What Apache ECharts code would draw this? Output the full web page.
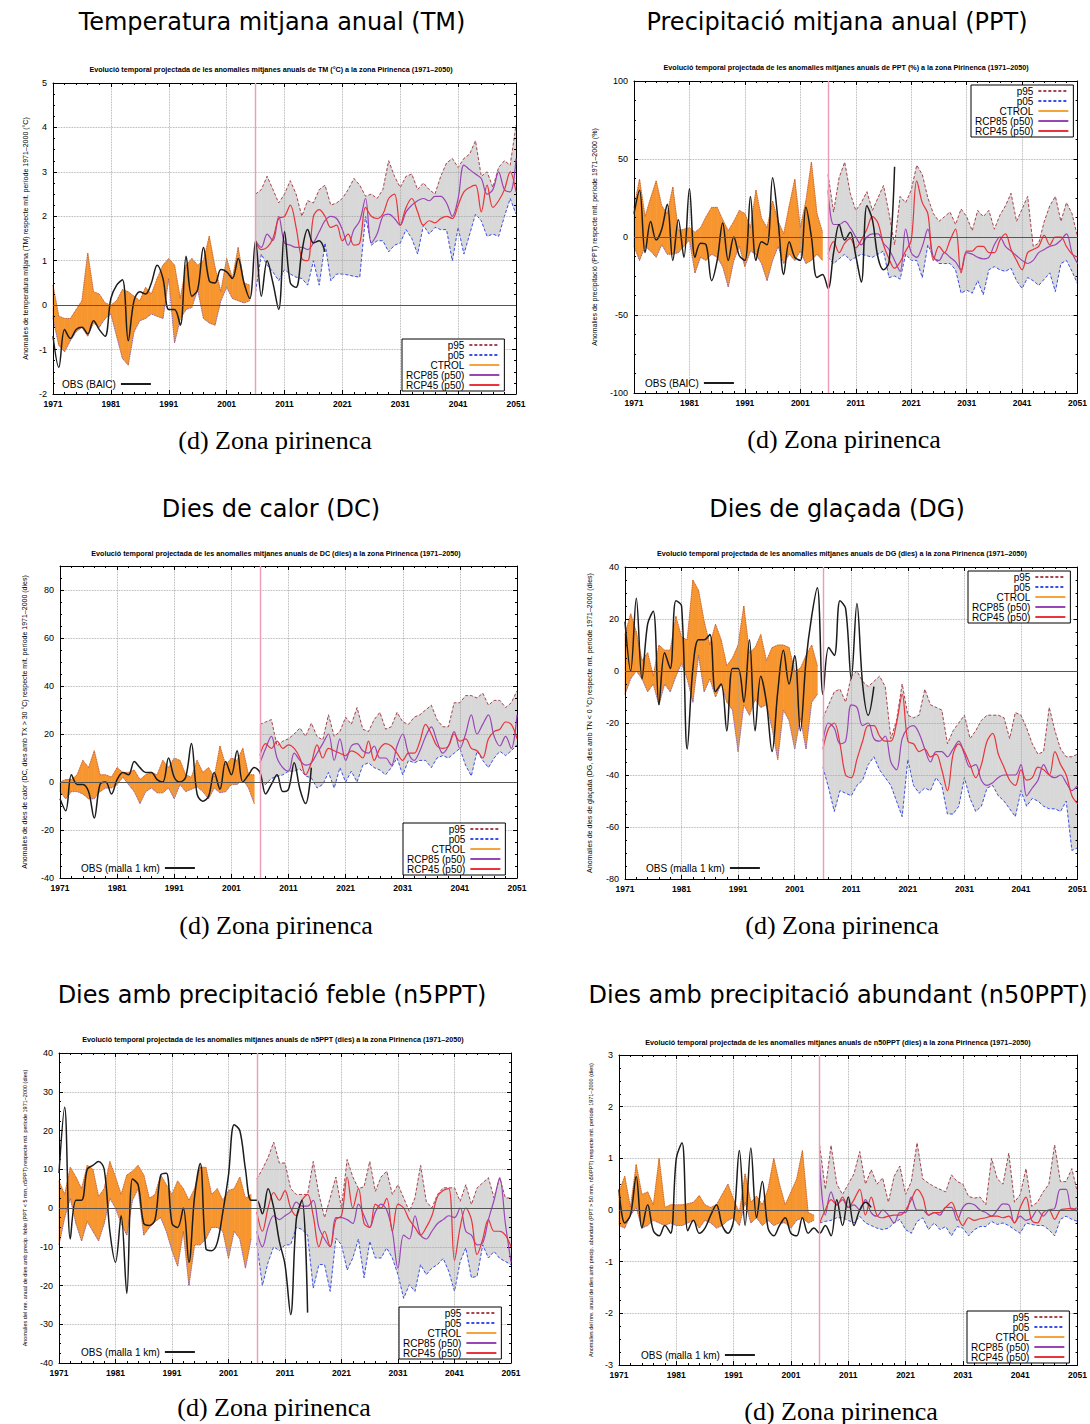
<!DOCTYPE html>
<html>
<head>
<meta charset="utf-8">
<title>Zona pirinenca - anomalies anuals</title>
<script src="https://cdn.jsdelivr.net/npm/echarts@6/dist/echarts.min.js"></script>
<style>
  html, body { margin: 0; padding: 0; background: #fff; }
  #main { width: 1090px; height: 1424px; }
</style>
</head>
<body>
<div id="main"></div>
<script>
var BASE_YEAR = 1971;   // 1r any de la serie
var CTRL_START = 1971;  // CTROL 1971-2005
var FUT_START = 2006;   // escenaris 2006-2051

// ---------- TM (°C) ----------
var tmCtrlP95 = [0.45, -0.25, -0.3, -0.3, -0.1, 0.1, 1.17, 0.3, 0.25, 0.05, 0.0, 0.1, 0.35, 0.3, 0.2, 0.1, 0.4, 0.25, 0.6, 0.9, 1.05, 0.9, 0.15, 0.9, 1.05, 0.9, 1.0, 1.55, 0.85, 0.3, 1.05, 0.6, 1.3, 0.5, 0.45];
var tmCtrlP05 = [-0.3, -0.9, -1.05, -0.8, -0.6, -0.5, -0.7, -0.4, -0.5, -0.3, -0.2, -0.7, -1.2, -1.35, -0.6, -0.35, -0.3, -0.2, -0.25, -0.3, 0.6, -0.85, -0.3, -0.1, -0.05, 0.35, -0.3, -0.4, -0.45, 0.1, 0.4, 0.15, 0.1, 0.05, 0.1];
var tmP95 = [2.5, 2.6, 2.9, 2.6, 2.3, 2.5, 2.8, 2.5, 2.0, 2.35, 2.3, 2.6, 2.7, 2.25, 2.3, 2.4, 2.6, 2.85, 2.7, 2.45, 2.5, 2.4, 2.6, 3.25, 2.9, 2.65, 2.9, 2.95, 2.6, 2.75, 2.6, 2.5, 2.9, 3.2, 3.3, 3.1, 3.3, 3.4, 3.7, 2.9, 3.0, 2.65, 3.1, 3.25, 3.15, 4.05];
var tmP05 = [0.3, 1.15, 0.9, 0.75, 0.55, 0.8, 0.7, 0.63, 0.6, 0.45, 1.0, 0.45, 1.4, 0.55, 0.7, 0.7, 0.68, 0.65, 0.63, 2.0, 1.35, 1.45, 1.45, 1.2, 1.35, 1.4, 1.7, 1.5, 1.15, 1.8, 1.6, 1.75, 1.7, 1.7, 1.0, 1.75, 1.15, 1.6, 2.05, 1.9, 1.55, 1.6, 1.55, 2.0, 2.4, 2.05];
var tmRcp85 = [1.45, 1.3, 1.6, 1.45, 2.0, 1.4, 1.35, 1.3, 1.3, 1.25, 1.4, 1.65, 1.9, 2.0, 1.95, 1.7, 1.35, 1.7, 1.9, 2.4, 1.4, 1.6, 2.0, 2.05, 1.95, 1.8, 2.1, 2.25, 2.35, 2.4, 2.35, 2.45, 2.45, 2.3, 2.0, 2.4, 3.15, 3.05, 2.95, 2.85, 2.5, 2.6, 3.0, 2.6, 2.55, 3.3];
var tmRcp45 = [1.45, 1.25, 1.3, 1.5, 1.95, 2.0, 2.25, 1.75, 1.05, 1.0, 2.0, 2.15, 2.0, 1.75, 1.8, 1.45, 1.6, 1.35, 1.4, 2.2, 2.0, 1.95, 2.05, 2.4, 2.5, 1.8, 2.2, 2.4, 2.1, 1.8, 1.9, 1.85, 1.95, 2.0, 1.95, 2.25, 2.55, 2.65, 2.7, 2.1, 2.7, 2.2, 2.35, 2.6, 3.0, 2.55];
var tmObs = [-0.7, -1.4, -0.55, -0.75, -0.55, -0.5, -0.65, -0.35, -0.55, -0.7, 0.15, 0.45, 0.57, -0.8, 0.1, 0.3, 0.25, 0.5, 0.9, 0.6, -0.1, -0.1, -0.45, 1.1, 0.2, 0.35, 1.3, 0.55, 0.5, 0.8, 0.75, 0.6, 1.05, 0.5, 0.15, 1.45, 0.2, 1.0, 0.5, -0.1, 1.65, 0.5, 0.4, 1.2, 1.7, 1.4, 1.45, 1.2];

// ---------- PPT (%) ----------
var pptCtrlP95 = [19, 37, 13, 25, 36, 20, 15, 32, 4, 5, 6, 3, 6, 13, 19, 19, 11, 4, 10, 17, 15, 6, 30, 12, 6, 23, 10, 2, 20, 37, 6, 23, 48, 15, 3];
var pptCtrlP05 = [-6, -15, -6, -9, -13, -5, -11, -11, -10, -6, -2, -23, -13, -15, -11, -13, -19, -32, -15, -6, -19, -9, -11, -17, -28, -15, -6, -17, -11, -15, -9, -17, -15, -11, -15];
var pptP95 = [40, 16, 38, 48, 28, 17, 22, 29, 17, 25, 33, 15, -5, 26, 22, 30, 46, 40, 25, 15, 10, 13, 16, 8, 18, 13, 4, 17, 13, 17, 5, 14, 20, 28, 10, 18, 26, -6, -4, 10, 20, 26, 10, 22, 15, 0];
var pptP05 = [-13, -17, -14, -11, -15, -13, -11, -12, -13, -11, -9, -26, -25, -27, -11, -15, -15, -26, -5, -13, -17, -17, -17, -21, -36, -34, -36, -28, -37, -21, -19, -21, -22, -20, -28, -33, -26, -28, -31, -27, -23, -35, -17, -15, -22, -30];
var pptRcp85 = [30, 8, 8, 10, 6, 0, -5, 0, 2, 2, -4, -8, -15, -22, 5, -10, -13, -6, 5, -13, -15, -10, -13, -16, -21, -10, -11, -13, -14, -13, -5, 0, -6, -9, -12, -15, -17, -15, -10, -8, -6, -5, -2, 2, -10, -17];
var pptRcp45 = [-11, -3, -10, -4, -1, -7, -2, 5, 13, 9, -5, -14, -20, -16, -9, -2, 36, 22, 15, -15, -6, -10, -2, 5, -23, -9, -9, -6, -6, -10, -10, -2, 2, -8, -15, -21, -10, -8, -6, 1, -5, 0, 0, -6, -11, -13];
var pptObs = [15, 30, -10, 10, -2, 5, 21, -15, 11, -13, 31, -13, -4, -5, -28, -15, 9, -15, 0, -12, -15, 26, -15, -3, -5, 38, 10, -24, -3, -13, -15, 19, 0, -26, -24, -33, -10, 8, -2, 3, -12, -29, 20, 11, -13, -21, -16, 45];

// ---------- DC (dies) ----------
var dcCtrlP95 = [0, 1, 1, 3, 9, 6, 13, 3, 3, 2, 6, 4, 4, 5, 1, 3, 4, 3, 9, 6, 10, 9, 3, 2, 9, 4, 6, 2, 15, 7, 10, 9, 14, 3, 3];
var dcCtrlP05 = [-4, -7, -4, -4, -5, -7, -7, -4, -2.5, -2.5, -1, 2, -1, -4, -9, -4, -2.5, -4.5, -4.5, -2.5, -7, -1, -4, -3, -2, -4, -7, -2.5, -4.5, -4, -1, -1, 1, -2.5, -9];
var dcP95 = [24, 25, 26, 15, 17, 18, 20, 22.5, 19, 24.5, 19, 17.5, 28, 19, 21, 27, 24, 31, 22, 21, 26, 29, 22, 23, 29, 25, 24, 27, 28, 30, 32, 26, 23, 23, 33, 33, 36, 36, 35, 37, 32, 34, 34, 31, 33, 38];
var dcP05 = [0, -1, 1.5, 2.3, 3, 4.5, 4.5, 5.5, 2.5, 1.7, -2.5, -1, 4, -2.5, 6, 0, 4.5, 0, 7, 8, 6, 5, 3, 6, 10, 3, 9, 8, 9, 9, 6, 10, 11, 10, 12, 14, 7, 2.5, 12.8, 9, 6, 10, 12.8, 11, 13, 15.5];
var dcRcp85 = [8, 14, 19, 10, 6, 4.5, 12, 9, 7, 8, 12, 16, 20, 9, 18, 9, 15, 16, 13, 12, 15, 10, 10, 7, 15, 20, 12, 9, 13, 19, 23, 17, 12, 15, 21, 14, 20, 28, 20, 24, 28, 19, 15, 19, 14, 28];
var dcRcp45 = [11, 16, 14, 17, 14, 15.5, 14, 10, 3, 8, 15.5, 10, 14, 13, 12, 11, 13, 12, 10, 17, 9, 14, 16, 15, 12, 9, 12, 12, 17, 24, 20, 15, 14, 15, 20, 17, 18, 14, 13, 10, 18, 21, 22, 25, 24, 18];
var dcObs = [-7, -12, 3, -1, -1, -4, -15, -1, 0, -5, 1, 4, 3, 8.5, 6, 4, 4, 1, 0, 10, 2, 0, 2, 16, -5, -8, -6, 4, -3, 8.5, 3, 13, 0, 3, 6, 4, -5, -1, 3, -4, -3, 8, -3, -9, 6];

// ---------- DG (dies) ----------
var dgCtrlP95 = [14, 22, 15, 4, 7, -2, 10, 8, 8, 21, 13, 12, 35, 31, 19, 10, 18, 12, 2, 5, 10, 25, 7, 9, 14, 4, 9, 10, 10, 9, 0, 1, 6, 10, 2];
var dgCtrlP05 = [-9, -3, 0, -3, -8, -5, -13, -5, -8, -2, 3, -3, -12, 6, -8, -3, -10, -5, -12, -15, -31, -13, -17, -11, -14, -13, -22, -34, -15, -19, -30, -18, -30, -12, -9];
var dgP95 = [-18, -13, -8, -7, -12, -2, 0, -4, -6, -4, -2, -6, -26, -19, -5, -17, -18, -17, -7, -13, -14, -15, -28, -23, -20, -17, -26, -23, -19, -17, -17, -17, -18, -26, -16, -17, -22, -28, -32, -31, -14, -23, -30, -33, -33, -32];
var dgP05 = [-37, -45, -54, -46, -47, -48, -44, -42, -36, -33, -38, -41, -44, -50, -56, -34, -44, -47, -45, -46, -41, -44, -55, -55, -52, -41, -49, -54, -52, -45, -44, -48, -50, -53, -56, -46, -52, -49, -50, -52, -53, -53, -54, -50, -69, -68];
var dgRcp85 = [-27, -20, -22, -28, -27, -13, -14, -21, -20, -26, -27, -25, -35, -38, -26, -22, -21, -24, -30, -35, -31, -31, -33, -30, -27, -32, -37, -36, -42, -44, -43, -41, -40, -40, -40, -36, -48, -45, -42, -36, -40, -41, -40, -43, -46, -44];
var dgRcp45 = [-30, -22, -20, -28, -40, -41, -34, -27, -21, -21, -25, -27, -27, -20, -9, -27, -28, -31, -30, -33, -32, -38, -46, -32, -28, -31, -36, -41, -36, -27, -24, -32, -37, -42, -44, -38, -42, -41, -37, -38, -40, -31, -36, -40, -48, -51];
var dgObs = [19, 0, 28, -3, 18, 23, -13, 7, 1, 27, 25, -30, 1, 12, 12, 14, -8, -5, -23, 1, 1, -12, 12, -23, -2, -12, -31, -8, 8, -5, 6, -23, 4, 21, 32, -9, 9, 6, 27, 24, -3, 26, -5, -17, -6];

// ---------- n5PPT (dies) ----------
var n5CtrlP95 = [7, 3.5, 10.5, 8, 5, 11, 10, 3, 5, 12, 8, 3.5, 8.5, 9.5, 11, 8.5, 2.5, 3.5, 8.5, 6, 3.5, 7, 5, 2, 5, 10.5, 10.5, 3.5, 5, 2, 4.5, 5, 8, 2.5, 3.5];
var n5CtrlP05 = [-9.5, -2.5, 2.5, -4, -8.5, -3.5, -6, -8.5, -4, 2.5, 0, -4, -7, 2, 5, -7, -5, -3.5, -2.5, -6, -11, -15, -6, -20, -9.5, -9.5, -8, -5, -5, -6, -13, -6, -8, -15.5, -8];
var n5P95 = [7.5, 10, 13, 17, 11.6, 11.6, 5, 3.5, 3.5, 3.5, 12, 3.5, -2.5, 2.6, 8, 0, 12.5, 8, 5, 5.5, 12, 4.3, 8, 9.5, 3.5, 6, 2.6, -0.9, 2.6, 11, 1.7, 0, 3.5, 5.2, 5.2, 5.2, 1.7, 6, 0.9, 5.2, 6.5, 7.8, 2.6, 7.8, 2.6, 2.6];
var n5P05 = [-9, -20, -14, -10, -11, -9.5, -9.5, -5, -5.5, -7, -20.7, -14.6, -14.6, -21.5, -7.8, -9.5, -16, -12.9, -8, -18, -8.6, -12.9, -12.9, -10.3, -12.9, -17.2, -23.3, -19.8, -21.5, -14.6, -17.2, -15.5, -14.6, -13, -16.4, -21.5, -13.8, -10.3, -18, -17.6, -9.5, -12.9, -11.2, -13, -13.8, -14.6];
var n5Rcp85 = [-6, -10, -5, -2, -3, -2, -1, 1.5, 0.5, 0.5, 2, -5, -8, -10, -2.5, -2.5, -3, -4, 1, -2, -5, -1, 1, -0.5, -6, -15.5, -7, -8, -2, -7, -8, -6, -4, -3, -2, -2.5, 0, -6, -7, -9.5, -9, -3, 2, 7.8, -4, -14];
var n5Rcp45 = [-1, -6, 0, 4, 2, 4.5, 0, -2, 2, 3.5, -2, -10, -6, -10, -3, -2, 8, 0, 5, -4, -5, 1, 0, 2.5, -6, 1, 0, -3, -5, -7, -5, -2, 3, 4.5, 5, -13.5, -5, 0, -3, -12, -8, -3, -6, -6, -7, -10];
var n5Obs = [9, 26, -8, 2, 2, 10, 11, 12, 10, -6, -14, -2, -22, 7.5, 6, -4, -4.5, -3, 8.5, 9, -4, -5, 0, -14, 3, 11.5, -10.5, -11, -9, -1, 8.5, 21.5, 20, 10, 2, 2, -1.5, 5, 0, -8.6, -14.6, -27.5, -3, 2, -27];

// ---------- n50PPT (dies) ----------
var n50CtrlP95 = [0.35, 0.65, 0.05, 0.88, 0.3, 0.35, 0.1, 1.0, 0.05, 0.1, 0.1, 0.1, 0.12, 0.15, 0.28, 0.1, 0.05, 0.1, 0.3, 0.5, 0.2, -0.05, 0.7, 0.15, 0.27, 0.1, 0.4, 1.0, 0.5, 0.1, 0.35, 0.6, 1.15, -0.05, -0.1];
var n50CtrlP05 = [-0.3, -0.35, -0.1, 0.05, -0.35, -0.3, -0.2, -0.25, -0.3, -0.25, -0.3, -0.3, -0.25, -0.2, -0.35, -0.2, -0.25, -0.35, -0.3, -0.2, -0.15, -0.3, 0.15, -0.25, -0.15, -0.3, -0.2, -0.3, -0.25, -0.25, -0.35, -0.2, -0.15, -0.25, -0.2];
var n50P95 = [1.25, 0.4, 1.25, 0.5, 0.3, 0.5, 0.7, 1.13, 0.5, 0.78, 0.5, 0.62, 0.15, 0.65, 0.85, 0.3, 0.55, 1.3, 0.6, 0.52, 0.45, 0.4, 0.35, 0.68, 0.55, 0.5, 0.26, 0.23, 0.25, 0.1, 1.0, 0.6, 0.5, 1.1, 0.15, 0.3, 0.8, 0.07, 0.15, 0.35, 0.5, 1.26, 0.55, 0.55, 0.8, 0.33];
var n50P05 = [-0.25, -0.22, -0.2, -0.15, -0.15, -0.2, -0.25, -0.12, -0.25, -0.3, -0.35, -0.38, -0.35, -0.25, -0.18, -0.38, -0.45, -0.22, -0.15, -0.38, -0.25, -0.38, -0.32, -0.5, -0.32, -0.35, -0.5, -0.38, -0.32, -0.32, -0.22, -0.28, -0.25, -0.3, -0.38, -0.45, -0.25, -0.28, -0.3, -0.3, -0.38, -0.5, -0.18, -0.12, -0.18, -0.22];
var n50Rcp85 = [0.9, -0.1, 0.35, 0.1, 0.2, 0.05, 0.1, 0.0, 0.2, -0.05, -0.12, 0.0, -0.1, -0.25, -0.05, -0.05, 0.25, 0.0, 0.0, -0.1, -0.05, -0.1, 0.05, 0.05, -0.2, 0.05, 0.13, 0.1, 0.0, -0.05, -0.12, 0.0, 0.12, 0.1, -0.25, -0.12, -0.2, -0.15, 0.0, -0.12, 0.0, 0.03, 0.4, 0.4, 0.0, 0.05];
var n50Rcp45 = [-0.25, 0.0, 0.2, 0.1, 0.25, 0.05, 0.2, 0.4, -0.1, 0.25, -0.1, -0.15, -0.12, -0.1, -0.1, 0.0, 0.2, 0.4, 0.25, -0.1, -0.05, -0.05, 0.05, 0.15, -0.1, -0.3, -0.15, -0.2, -0.17, -0.15, -0.12, -0.12, -0.15, -0.12, -0.25, 0.05, 0.25, -0.2, -0.25, -0.05, 0.0, -0.18, 0.0, 0.02, 0.03, -0.03];
var n50Obs = [0.4, -0.25, -0.1, 0.65, -0.35, 0.1, -0.4, -0.5, -0.3, -0.45, 1.0, 1.3, -0.4, -0.2, -0.45, -0.35, -0.1, 0.1, -0.3, -0.45, -0.2, 1.15, -0.3, 1.2, -0.15, 0.55, -0.35, -0.5, -0.3, -0.15, -0.45, -0.5, -0.15, -0.45, -0.35, -0.45, -0.3, -0.5, 0.2, -0.3, 0.25, -0.3, 0.0, 0.15, 0.05];

var FONT = 'Liberation Sans';
var SUB_PREFIX = 'Evolució temporal projectada de les anomalies mitjanes anuals de ';
var SUB_SUFFIX = ' a la zona Pirinenca (1971–2050)';
var LEGEND_NAMES = ['p95', 'p05', 'CTROL', 'RCP85 (p50)', 'RCP45 (p50)'];

var COL = {
  orange: '#f7962f', grey: '#d8d8d8',
  p95: '#a8444e', p05: '#3b4fe6', ctrl: '#f5a33c',
  rcp85: '#9a45b6', rcp45: '#e8343a', obs: '#1c1c1c',
  p95c: '#b4513e', p05c: '#6a55d0', pink: '#ec9cb8', grid: '#9c9c9c'
};

var panels = [
  {
    title: 'Temperatura mitjana anual (TM)', titleX: 272, titleY: 22,
    sub: 'TM (°C)', subX: 271, subY: 69, capX: 275, capY: 440,
    yName: 'Anomalies de temperatura mitjana (TM) respecte mit. període 1971–2000 (°C)', yNameSize: 7, yNameGap: 24,
    grid: { left: 53, top: 83, width: 463, height: 311 },
    y: { min: -2, max: 5, interval: 1 },
    legend: { left: 402, top: 339 }, obsLegend: { left: 62, top: 379 }, obsName: 'OBS (BAIC)',
    ctrlP95: tmCtrlP95, ctrlP05: tmCtrlP05, p95: tmP95, p05: tmP05, rcp85: tmRcp85, rcp45: tmRcp45, obs: tmObs
  },
  {
    title: 'Precipitació mitjana anual (PPT)', titleX: 837, titleY: 22,
    sub: 'PPT (%)', subX: 846, subY: 67, capX: 844, capY: 439,
    yName: 'Anomalies de precipitació (PPT) respecte mit. període 1971–2000 (%)', yNameSize: 7, yNameGap: 36,
    grid: { left: 634, top: 81, width: 450, height: 312 },
    y: { min: -100, max: 100, interval: 50 },
    legend: { left: 971, top: 85 }, obsLegend: { left: 645, top: 378 }, obsName: 'OBS (BAIC)',
    ctrlP95: pptCtrlP95, ctrlP05: pptCtrlP05, p95: pptP95, p05: pptP05, rcp85: pptRcp85, rcp45: pptRcp45, obs: pptObs
  },
  {
    title: 'Dies de calor (DC)', titleX: 271, titleY: 509,
    sub: 'DC (dies)', subX: 276, subY: 553, capX: 276, capY: 925,
    yName: 'Anomalies de dies de calor (DC, dies amb TX > 30 °C) respecte mit. període 1971–2000 (dies)', yNameSize: 7, yNameGap: 32,
    grid: { left: 60, top: 566, width: 457, height: 312 },
    y: { min: -40, max: 90, interval: 20, hideMax: true },
    legend: { left: 403, top: 823 }, obsLegend: { left: 81, top: 863 }, obsName: 'OBS (malla 1 km)',
    ctrlP95: dcCtrlP95, ctrlP05: dcCtrlP05, p95: dcP95, p05: dcP05, rcp85: dcRcp85, rcp45: dcRcp45, obs: dcObs
  },
  {
    title: 'Dies de glaçada (DG)', titleX: 837, titleY: 509,
    sub: 'DG (dies)', subX: 842, subY: 553, capX: 842, capY: 925,
    yName: 'Anomalies de dies de glaçada (DG, dies amb TN < 0 °C) respecte mit. període 1971–2000 (dies)', yNameSize: 7, yNameGap: 32,
    grid: { left: 625, top: 567, width: 458, height: 312 },
    y: { min: -80, max: 40, interval: 20 },
    legend: { left: 968, top: 571 }, obsLegend: { left: 646, top: 863 }, obsName: 'OBS (malla 1 km)',
    ctrlP95: dgCtrlP95, ctrlP05: dgCtrlP05, p95: dgP95, p05: dgP05, rcp85: dgRcp85, rcp45: dgRcp45, obs: dgObs
  },
  {
    title: 'Dies amb precipitació feble (n5PPT)', titleX: 272, titleY: 995,
    sub: 'n5PPT (dies)', subX: 273, subY: 1039, capX: 274, capY: 1407,
    yName: 'Anomalies del nre. anual de dies amb precip. feble (PPT < 5 mm, n5PPT) respecte mit. període 1971–2000 (dies)', yNameSize: 5.5, yNameGap: 31,
    grid: { left: 59, top: 1053, width: 452, height: 310 },
    y: { min: -40, max: 40, interval: 10 },
    legend: { left: 399, top: 1307 }, obsLegend: { left: 81, top: 1347 }, obsName: 'OBS (malla 1 km)',
    ctrlP95: n5CtrlP95, ctrlP05: n5CtrlP05, p95: n5P95, p05: n5P05, rcp85: n5Rcp85, rcp45: n5Rcp45, obs: n5Obs
  },
  {
    title: 'Dies amb precipitació abundant (n50PPT)', titleX: 838, titleY: 995,
    sub: 'n50PPT (dies)', subX: 838, subY: 1042, capX: 841, capY: 1411,
    yName: 'Anomalies del nre. anual de dies amb precip. abundant (PPT > 50 mm, n50PPT) respecte mit. període 1971–2000 (dies)', yNameSize: 5.5, yNameGap: 25,
    grid: { left: 619, top: 1055, width: 459, height: 310 },
    y: { min: -3, max: 3, interval: 1 },
    legend: { left: 967, top: 1311 }, obsLegend: { left: 641, top: 1350 }, obsName: 'OBS (malla 1 km)',
    ctrlP95: n50CtrlP95, ctrlP05: n50CtrlP05, p95: n50P95, p05: n50P05, rcp85: n50Rcp85, rcp45: n50Rcp45, obs: n50Obs
  }
];

function pairs(vals, startYear) {
  return vals.map(function (v, i) { return [startYear + i - BASE_YEAR, v]; });
}

// trams de banda: [x0, p05_0, p95_0, x1, p05_1, p95_1]
function quads(lo, hi, startYear) {
  var out = [];
  var n = Math.min(lo.length, hi.length);
  for (var i = 0; i + 1 < n; i++) {
    var x = startYear + i - BASE_YEAR;
    out.push([x, lo[i], hi[i], x + 1, lo[i + 1], hi[i + 1]]);
  }
  return out;
}

function renderBand(params, api) {
  var col = api.visual('color');
  var a = api.coord([api.value(0), api.value(1)]);
  var b = api.coord([api.value(3), api.value(4)]);
  var c = api.coord([api.value(3), api.value(5)]);
  var d = api.coord([api.value(0), api.value(2)]);
  return {
    type: 'polygon',
    shape: { points: [a, b, c, d] },
    style: { fill: col, stroke: col, lineWidth: 0.6 }
  };
}

function xAxisOf(i, top) {
  return {
    type: 'value', gridIndex: i, position: top ? 'top' : 'bottom',
    min: 0, max: 80, interval: 10, z: 3,
    axisLine: { show: true, onZero: false, lineStyle: { color: '#000', width: 1 } },
    axisTick: { show: true, inside: true, length: 4, lineStyle: { color: '#000', width: 1 } },
    minorTick: { show: true, splitNumber: 5, length: 2, lineStyle: { color: '#000', width: 1 } },
    axisLabel: {
      show: !top, margin: 5, fontSize: 8.5, fontWeight: 'bold', color: '#000', fontFamily: FONT,
      formatter: function (v) { return String(BASE_YEAR + v); }
    },
    splitLine: { show: !top, lineStyle: { color: COL.grid, type: 'dotted', width: 0.8 } }
  };
}

function yAxisOf(i, p, right) {
  return {
    type: 'value', gridIndex: i, position: right ? 'right' : 'left',
    min: p.y.min, max: p.y.max, interval: p.y.interval, z: 3,
    name: right ? '' : p.yName, nameLocation: 'middle', nameRotate: 90, nameGap: p.yNameGap,
    nameTextStyle: { fontSize: p.yNameSize, fontFamily: FONT, color: '#000' },
    axisLine: { show: true, onZero: false, lineStyle: { color: '#000', width: 1 } },
    axisTick: { show: true, inside: true, length: 4, lineStyle: { color: '#000', width: 1 } },
    minorTick: { show: true, splitNumber: 4, length: 2, lineStyle: { color: '#000', width: 1 } },
    axisLabel: {
      show: !right, margin: 6, fontSize: 9, color: '#000', fontFamily: FONT,
      showMaxLabel: !p.y.hideMax
    },
    splitLine: { show: !right, lineStyle: { color: COL.grid, type: 'dotted', width: 0.8 } }
  };
}

function band(i, lo, hi, start, color) {
  return {
    type: 'custom', name: 'band', coordinateSystem: 'cartesian2d',
    xAxisIndex: 2 * i, yAxisIndex: 2 * i,
    data: quads(lo, hi, start), encode: { x: [0, 3], y: [1, 2, 4, 5] },
    renderItem: renderBand, itemStyle: { color: color },
    silent: true, z: 1, emphasis: { disabled: true }
  };
}

function line(i, name, data, start, color, width, type, smooth, z) {
  return {
    type: 'line', name: name, xAxisIndex: 2 * i, yAxisIndex: 2 * i,
    data: pairs(data, start), symbol: 'none', smooth: smooth || false, silent: true, z: z || 2,
    emphasis: { disabled: true },
    itemStyle: { color: color },
    lineStyle: { color: color, width: width, type: type || 'solid' }
  };
}

var option = {
  animation: false,
  backgroundColor: '#fff',
  textStyle: { fontFamily: FONT },
  grid: [], xAxis: [], yAxis: [], series: [], legend: [], graphic: []
};

panels.forEach(function (p, i) {
  option.grid.push(Object.assign({ show: false }, p.grid));
  option.xAxis.push(xAxisOf(i, false), xAxisOf(i, true));
  option.yAxis.push(yAxisOf(i, p, false), yAxisOf(i, p, true));

  var s = option.series;
  // bandes CTROL (taronja) i escenaris (gris)
  s.push(band(i, p.ctrlP05, p.ctrlP95, CTRL_START, COL.orange));
  s.push(band(i, p.p05, p.p95, FUT_START, COL.grey));
  s.push(line(i, 'p95 ctrl', p.ctrlP95, CTRL_START, COL.p95c, 0.9, 'dotted'));
  s.push(line(i, 'p05 ctrl', p.ctrlP05, CTRL_START, COL.p05c, 0.9, 'dotted'));
  s.push(line(i, 'CTROL', [], CTRL_START, COL.ctrl, 1.2));
  s.push(line(i, 'p95', p.p95, FUT_START, COL.p95, 1, [3, 2]));
  s.push(line(i, 'p05', p.p05, FUT_START, COL.p05, 1, [3, 2]));
  s.push(line(i, 'RCP85 (p50)', p.rcp85, FUT_START, COL.rcp85, 1.2, 'solid', 0.35, 3));
  s.push(line(i, 'RCP45 (p50)', p.rcp45, FUT_START, COL.rcp45, 1.2, 'solid', 0.35, 3));

  var obs = line(i, p.obsName, p.obs, BASE_YEAR, COL.obs, 1.5, 'solid', 0.35, 4);
  obs.markLine = {
    silent: true, symbol: ['none', 'none'], label: { show: false }, animation: false,
    data: [
      { xAxis: FUT_START - BASE_YEAR, lineStyle: { color: COL.pink, width: 1.4, type: 'solid' } },
      { yAxis: 0, lineStyle: { color: '#555', width: 1, type: 'solid' } }
    ]
  };
  s.push(obs);

  option.legend.push({
    left: p.legend.left, top: p.legend.top, orient: 'vertical', align: 'right',
    itemGap: 0, itemWidth: 30, itemHeight: 10, padding: [1, 4, 1, 4],
    borderColor: '#000', borderWidth: 1, backgroundColor: '#fff', selectedMode: false,
    itemStyle: { opacity: 0 },
    textStyle: { fontSize: 10, lineHeight: 10, color: '#000', fontFamily: FONT },
    data: LEGEND_NAMES
  });
  option.legend.push({
    left: p.obsLegend.left, top: p.obsLegend.top, orient: 'vertical', align: 'right',
    itemWidth: 30, itemHeight: 10, padding: 0, selectedMode: false,
    itemStyle: { opacity: 0 },
    textStyle: { fontSize: 10, color: '#000', fontFamily: FONT },
    data: [p.obsName]
  });

  option.graphic.push(
    { type: 'text', x: p.titleX, y: p.titleY, silent: true,
      style: { text: p.title, font: '24px "DejaVu Sans"', fill: '#000', textAlign: 'center', textVerticalAlign: 'middle' } },
    { type: 'text', x: p.subX, y: p.subY, silent: true,
      style: { text: SUB_PREFIX + p.sub + SUB_SUFFIX, font: 'bold 7.2px "Liberation Sans"', fill: '#000', textAlign: 'center', textVerticalAlign: 'middle' } },
    { type: 'text', x: p.capX, y: p.capY, silent: true,
      style: { text: '(d) Zona pirinenca', font: '26px "Liberation Serif"', fill: '#000', textAlign: 'center', textVerticalAlign: 'middle' } }
  );
});

var chart = echarts.init(document.getElementById('main'), null, { renderer: 'svg' });
chart.setOption(option);
</script>
</body>
</html>
